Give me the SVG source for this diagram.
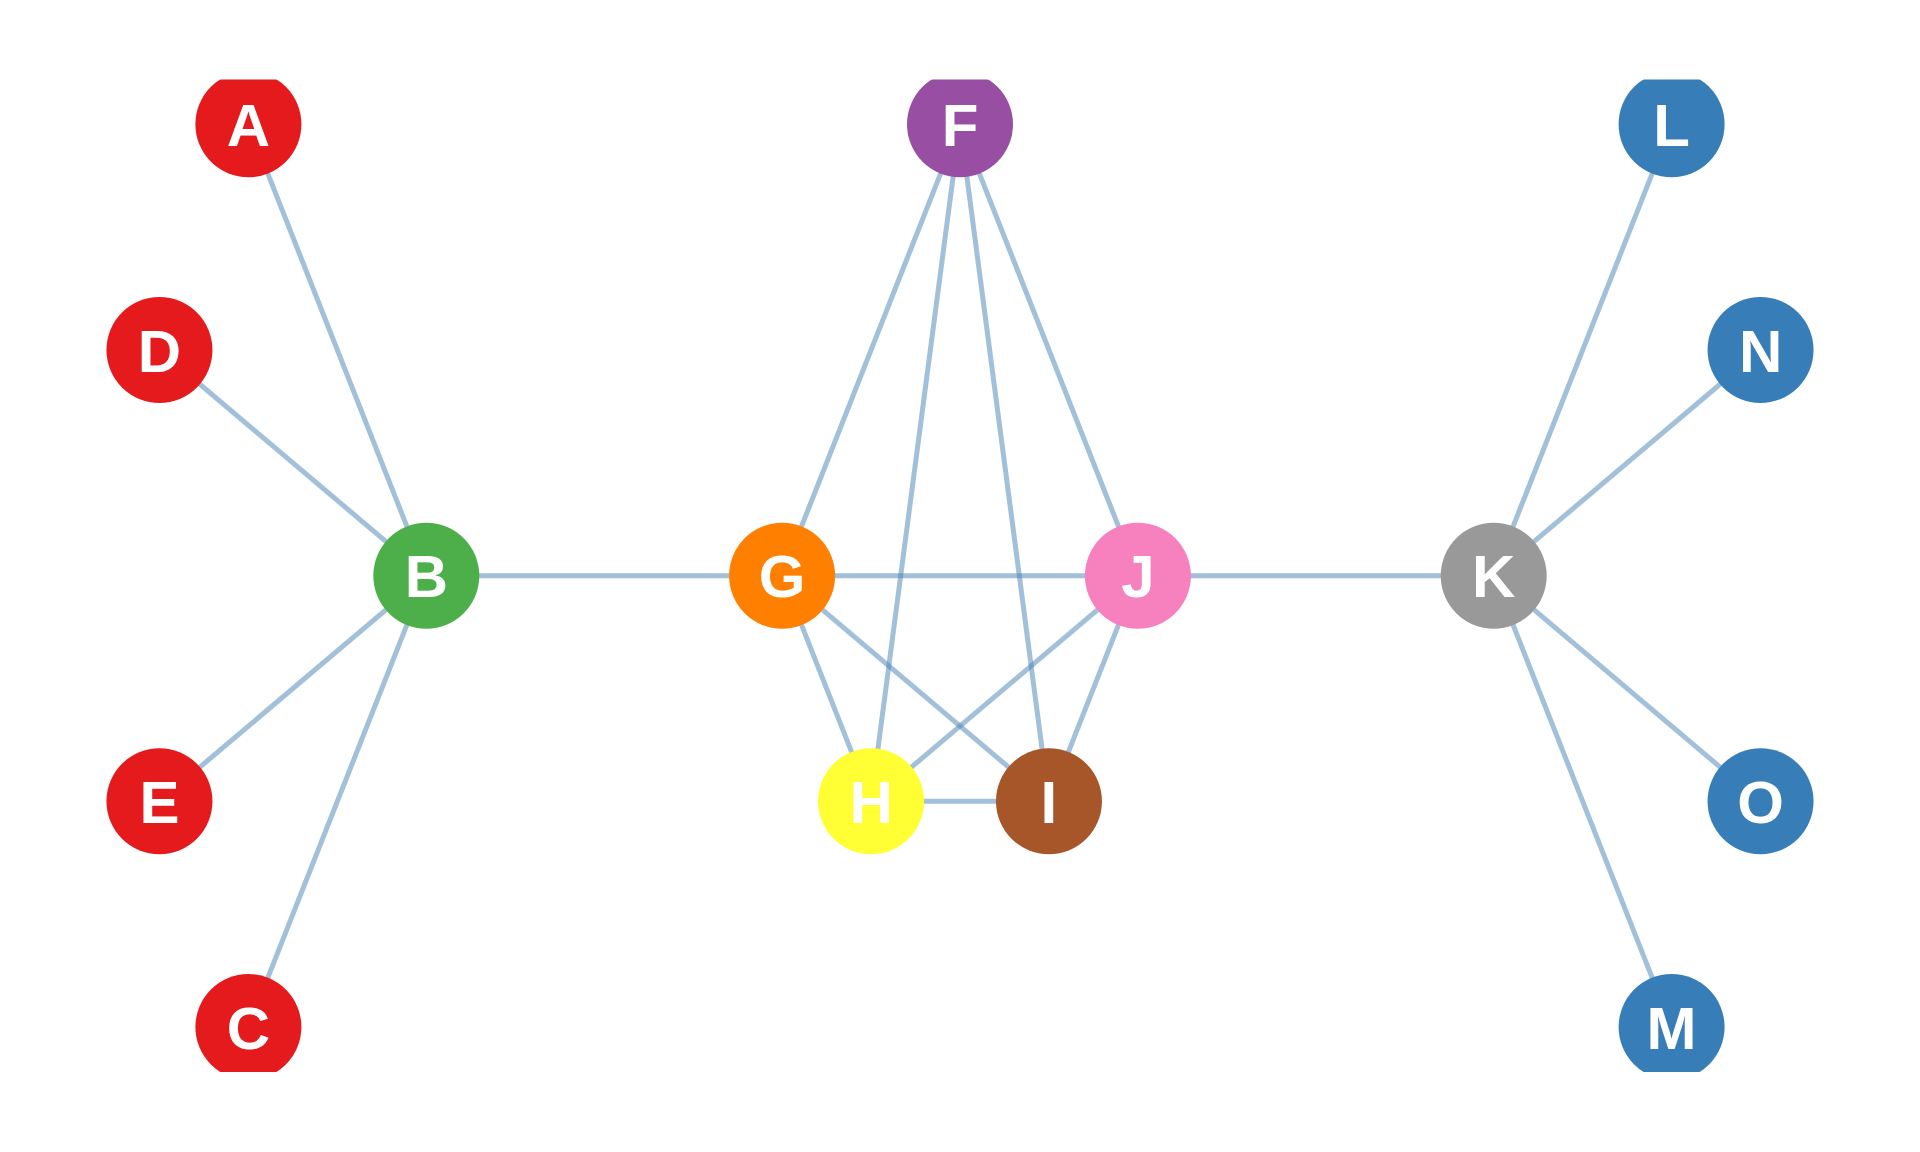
<svg xmlns="http://www.w3.org/2000/svg" width="1920" height="1152" viewBox="0 0 1920 1152">
<style>
.edge{stroke:#4682b4;stroke-opacity:0.5;stroke-width:5;fill:none}
.node text{font-family:"Liberation Sans",Arial,sans-serif;font-weight:bold;font-size:60px;fill:#fff;text-anchor:middle}
</style>
<defs>
<clipPath id="vp"><rect x="0" y="79.5" width="1920" height="992.5"/></clipPath>
</defs>
<rect width="1920" height="1152" fill="#fff"/>
<g clip-path="url(#vp)">
<g id="edges">
<line class="edge" x1="248.4" y1="124.3" x2="426.3" y2="575.7"/>
<line class="edge" x1="159.45" y1="350" x2="426.3" y2="575.7"/>
<line class="edge" x1="159.45" y1="801.3" x2="426.3" y2="575.7"/>
<line class="edge" x1="248.4" y1="1027" x2="426.3" y2="575.7"/>
<line class="edge" x1="426.3" y1="575.7" x2="782.1" y2="575.7"/>
<line class="edge" x1="782.1" y1="575.7" x2="960" y2="124.3"/>
<line class="edge" x1="782.1" y1="575.7" x2="1137.9" y2="575.7"/>
<line class="edge" x1="782.1" y1="575.7" x2="871.05" y2="801.3"/>
<line class="edge" x1="782.1" y1="575.7" x2="1048.95" y2="801.3"/>
<line class="edge" x1="960" y1="124.3" x2="871.05" y2="801.3"/>
<line class="edge" x1="960" y1="124.3" x2="1048.95" y2="801.3"/>
<line class="edge" x1="960" y1="124.3" x2="1137.9" y2="575.7"/>
<line class="edge" x1="1137.9" y1="575.7" x2="871.05" y2="801.3"/>
<line class="edge" x1="1137.9" y1="575.7" x2="1048.95" y2="801.3"/>
<line class="edge" x1="871.05" y1="801.3" x2="1048.95" y2="801.3"/>
<line class="edge" x1="1137.9" y1="575.7" x2="1493.7" y2="575.7"/>
<line class="edge" x1="1493.7" y1="575.7" x2="1671.6" y2="124.3"/>
<line class="edge" x1="1493.7" y1="575.7" x2="1760.55" y2="350"/>
<line class="edge" x1="1493.7" y1="575.7" x2="1760.55" y2="801.3"/>
<line class="edge" x1="1493.7" y1="575.7" x2="1671.6" y2="1027"/>
</g>
<g id="node-A" class="node"><circle cx="248.4" cy="124.3" r="53" fill="#e41a1c"/><text x="248.4" y="145.8">A</text></g>
<g id="node-F" class="node"><circle cx="960" cy="124.3" r="53" fill="#984ea3"/><text x="960" y="145.8">F</text></g>
<g id="node-L" class="node"><circle cx="1671.6" cy="124.3" r="53" fill="#377eb8"/><text x="1671.6" y="145.8">L</text></g>
<g id="node-D" class="node"><circle cx="159.45" cy="350" r="53" fill="#e41a1c"/><text x="159.45" y="371.5">D</text></g>
<g id="node-N" class="node"><circle cx="1760.55" cy="350" r="53" fill="#377eb8"/><text x="1760.55" y="371.5">N</text></g>
<g id="node-B" class="node"><circle cx="426.3" cy="575.7" r="53" fill="#4daf4a"/><text x="426.3" y="597.2">B</text></g>
<g id="node-G" class="node"><circle cx="782.1" cy="575.7" r="53" fill="#ff7f00"/><text x="782.1" y="597.2">G</text></g>
<g id="node-J" class="node"><circle cx="1137.9" cy="575.7" r="53" fill="#f781bf"/><text x="1137.9" y="597.2">J</text></g>
<g id="node-K" class="node"><circle cx="1493.7" cy="575.7" r="53" fill="#999999"/><text x="1493.7" y="597.2">K</text></g>
<g id="node-E" class="node"><circle cx="159.45" cy="801.3" r="53" fill="#e41a1c"/><text x="159.45" y="822.8">E</text></g>
<g id="node-H" class="node"><circle cx="871.05" cy="801.3" r="53" fill="#ffff33"/><text x="871.05" y="822.8">H</text></g>
<g id="node-I" class="node"><circle cx="1048.95" cy="801.3" r="53" fill="#a65628"/><text x="1048.95" y="822.8">I</text></g>
<g id="node-O" class="node"><circle cx="1760.55" cy="801.3" r="53" fill="#377eb8"/><text x="1760.55" y="822.8">O</text></g>
<g id="node-C" class="node"><circle cx="248.4" cy="1027" r="53" fill="#e41a1c"/><text x="248.4" y="1048.5">C</text></g>
<g id="node-M" class="node"><circle cx="1671.6" cy="1027" r="53" fill="#377eb8"/><text x="1671.6" y="1048.5">M</text></g>
</g>
</svg>
